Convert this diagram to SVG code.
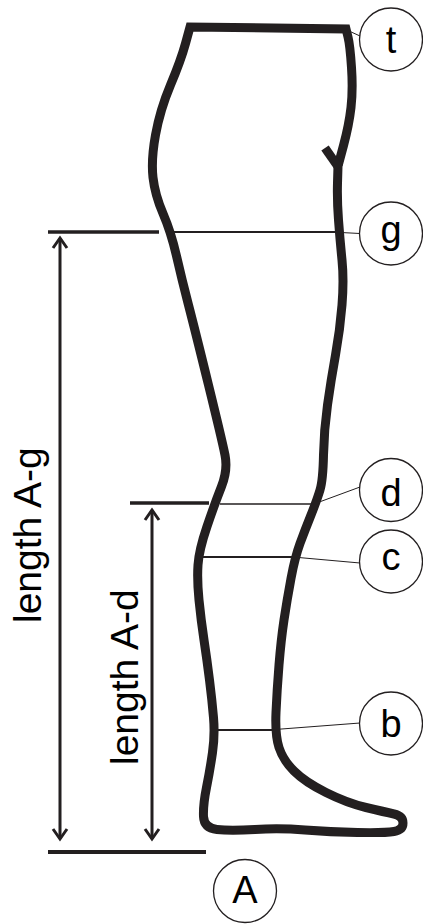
<svg xmlns="http://www.w3.org/2000/svg" width="423" height="924" viewBox="0 0 423 924">
<style>
.outline{fill:none;stroke:#231f20;stroke-width:9;stroke-linejoin:miter;stroke-miterlimit:10}
.meas{stroke:#231f20;stroke-width:1.8;fill:none}
.conn{stroke:#231f20;stroke-width:1;fill:none}
.dim{stroke:#231f20;stroke-width:3.5;fill:none}
.arr{stroke:#231f20;stroke-width:3;fill:none}
.bubble{fill:#fff;stroke:#231f20;stroke-width:1.3}
.lbl{font-family:"Liberation Sans",Arial,sans-serif;font-size:38px;fill:#000;text-anchor:middle}
.dimtxt{font-family:"Liberation Sans",Arial,sans-serif;font-size:39px;fill:#000}
</style>
<defs>
<marker id="ah" viewBox="-12 -9 16 18" refX="0" refY="0" markerWidth="16" markerHeight="18" markerUnits="userSpaceOnUse" orient="auto-start-reverse">
<path d="M-10,-7 L0,0 L-10,7" fill="none" stroke="#231f20" stroke-width="3"/>
</marker>
</defs>
<rect width="423" height="924" fill="#fff"/>
<g id="leg">
<path class="outline" d="M 338,166 L 337.5,183 Q 337,200 338.5,220 Q 340,240 342,260 Q 344,280 342,305 Q 340,330 335.5,355 Q 331,380 327.5,405 Q 324,430 323.5,455 Q 323,480 320,490 Q 317,500 311,515 Q 305,530 300,543.5 Q 295,557 291,578.5 Q 287,600 284,620 Q 281,640 279,665 Q 277,690 276,712.5 Q 275,735 279,747.5 Q 283,760 294,771 Q 305,782 326,792.5 Q 347,803 366,807.5 Q 385,812 394,814 Q 403,816 403,823 Q 403,830 394,831.5 Q 385,833 357.5,832.5 Q 330,832 305,830 Q 280,828 255,829.5 Q 230,831 217,829.5 Q 204,828 203.5,816.5 Q 203,805 206.5,787.5 Q 210,770 212.5,752.5 Q 215,735 213.5,717.5 Q 212,700 209.5,680 Q 207,660 204,640 Q 201,620 199,600 Q 197,580 198,565 Q 199,550 207,526.5 Q 215,503 221.5,486.5 Q 228,470 225,455 Q 222,440 208.5,385 Q 195,330 188.5,305 Q 182,280 176.5,256 Q 171,232 163,213.5 Q 155,195 153,177.5 Q 151,160 155.5,135 Q 160,110 170.5,85 Q 181,60 185.5,43.5 L 190,27 L 346,29 L 348,37 Q 350,45 351.5,67.5 Q 353,90 351,107.5 Q 349,125 343.5,145.5 L 338,166 Z"/>
<path class="outline" d="M 325,148 L 339,168"/>
</g>
<g id="connectors">
<line class="meas" x1="172" y1="232" x2="341" y2="232"/>
<line class="conn" x1="341" y1="232.5" x2="360" y2="233.5"/>
<line class="meas" x1="220" y1="504" x2="314" y2="504" style="stroke-width:1.5"/>
<line class="conn" x1="314" y1="504" x2="322" y2="501"/>
<line class="conn" x1="322" y1="501" x2="360" y2="487"/>
<line class="meas" x1="203" y1="557" x2="293" y2="557"/>
<line class="conn" x1="293" y1="557" x2="360" y2="563"/>
<line class="meas" x1="218" y1="730" x2="275" y2="730"/>
<line class="conn" x1="275" y1="729.5" x2="360" y2="723"/>
<line class="conn" x1="349" y1="31" x2="360" y2="36"/>
<line class="dim" x1="48" y1="232" x2="159" y2="232"/>
<line class="dim" x1="130" y1="503" x2="209" y2="503"/>
<line class="dim" x1="48" y1="852" x2="206" y2="852" style="stroke-width:4"/>
<line class="arr" x1="60" y1="238" x2="60" y2="839" marker-start="url(#ah)" marker-end="url(#ah)"/>
<line class="arr" x1="152" y1="510" x2="152" y2="839" marker-start="url(#ah)" marker-end="url(#ah)"/>
</g>
<g id="dim-ag"><text class="dimtxt" transform="translate(41,623) rotate(-90)">length A-g</text></g>
<g id="dim-ad"><text class="dimtxt" transform="translate(138,765) rotate(-90)">length A-d</text></g>
<g id="node-t"><circle class="bubble" cx="391" cy="39.5" r="31.5"/><text class="lbl" x="391" y="53">t</text></g>
<g id="node-g"><circle class="bubble" cx="391" cy="233.5" r="31.5"/><text class="lbl" x="391" y="243">g</text></g>
<g id="node-d"><circle class="bubble" cx="391" cy="490" r="31.5"/><text class="lbl" x="391" y="506">d</text></g>
<g id="node-c"><circle class="bubble" cx="391" cy="561.5" r="31.5"/><text class="lbl" x="391" y="570">c</text></g>
<g id="node-b"><circle class="bubble" cx="391" cy="723.5" r="31.5"/><text class="lbl" x="391" y="737">b</text></g>
<g id="node-A"><circle class="bubble" cx="245" cy="891" r="31.5"/><text class="lbl" x="245" y="903">A</text></g>
</svg>
